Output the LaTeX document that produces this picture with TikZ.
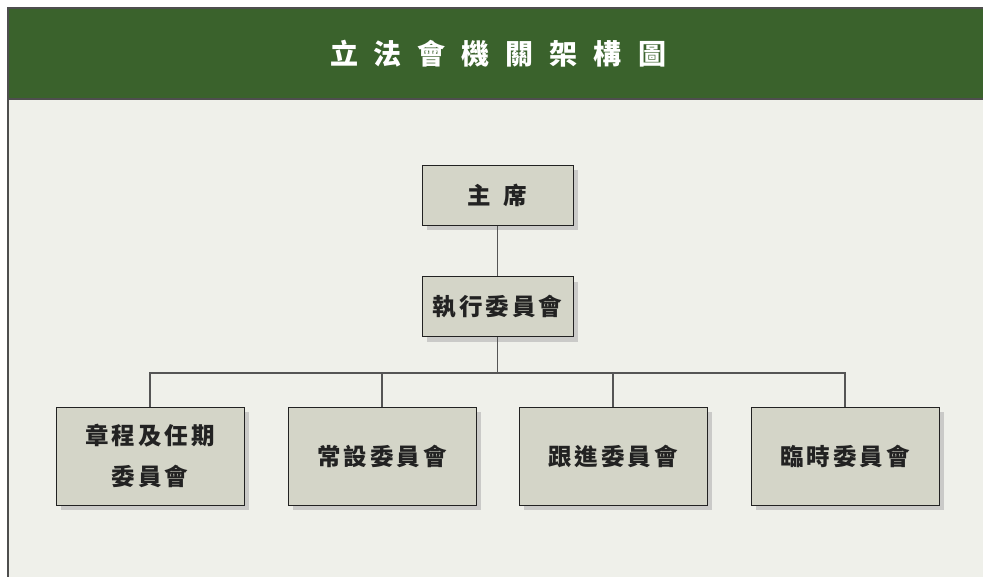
\documentclass[tikz,border=0pt]{standalone}
\usepackage{fontspec}
\newfontfamily\cjk{Noto Sans CJK TC}
\usetikzlibrary{shadows}
\definecolor{hdr}{HTML}{3A622C}
\definecolor{bg}{HTML}{EFF0EA}
\definecolor{boxfill}{HTML}{D4D5C8}
\definecolor{shd}{HTML}{CACAC8}
\definecolor{txt}{HTML}{222222}
\definecolor{ln}{HTML}{555555}
\newcommand{\gp}{\hspace{3pt}}
\tikzset{
  orgbox/.style={draw=txt, line width=1pt, fill=boxfill, minimum width=151pt, minimum height=60pt,
    inner sep=0pt, align=center, font=\cjk\bfseries\fontsize{23.5}{41}\selectfont, text=txt,
    drop shadow={shadow xshift=5pt, shadow yshift=-5pt, fill=shd, opacity=1}},
  lowbox/.style={orgbox, minimum width=188pt, minimum height=98pt},
  conn/.style={draw=ln, line width=1.1pt}
}
\begin{document}
\begin{tikzpicture}[x=1pt,y=-1pt]
\useasboundingbox (0,0) rectangle (983,576);
\fill[white] (0,0) rectangle (983,576);
\fill[bg] (8,8) rectangle (990,590);
\fill[hdr] (8,8) rectangle (990,99);
\draw[line width=1.5pt, draw=txt!80] (8,590) -- (8,8) -- (990,8);
\draw[line width=1.5pt, draw=txt!80] (8,99) -- (990,99);
\node[font=\cjk\bfseries\fontsize{28}{30}\selectfont, text=white] (title) at (498,54)
  {立\hspace{16pt}法\hspace{16pt}會\hspace{16pt}機\hspace{16pt}關\hspace{16pt}架\hspace{16pt}構\hspace{16pt}圖};
\node[orgbox] (chair) at (497.5,195) {主\hspace{13pt}席};
\node[orgbox] (exec) at (497.5,306.5) {執\gp 行\gp 委\gp 員\gp 會};
\node[lowbox] (c1) at (150,456) {章\gp 程\gp 及\gp 任\gp 期\\委\gp 員\gp 會};
\node[lowbox] (c2) at (382,456) {常\gp 設\gp 委\gp 員\gp 會};
\node[lowbox] (c3) at (613,456) {跟\gp 進\gp 委\gp 員\gp 會};
\node[lowbox] (c4) at (845,456) {臨\gp 時\gp 委\gp 員\gp 會};
\coordinate (bus) at (497.5,373);
\draw[conn] (chair.south) -- (exec.north);
\draw[conn] (exec.south) -- (bus);
\draw[conn] (c1.north) |- (bus) -| (c4.north);
\draw[conn] (c2.north) -- (c2.north |- bus);
\draw[conn] (c3.north) -- (c3.north |- bus);
\end{tikzpicture}
\end{document}
